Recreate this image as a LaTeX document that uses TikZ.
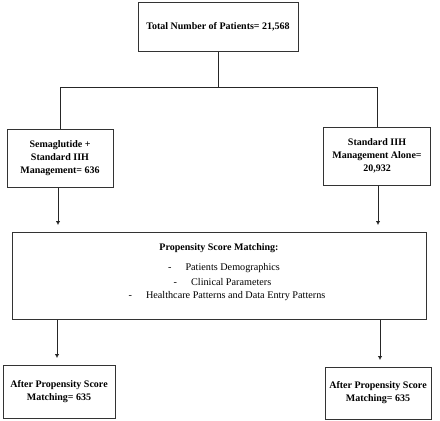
\documentclass[tikz,border=0pt]{standalone}
\usepackage{fontspec}
\setmainfont{Liberation Serif}
\usetikzlibrary{arrows.meta}
\begin{document}
\begin{tikzpicture}[x=1pt,y=-1pt,
  box/.style={draw=black!80,line width=1pt,rectangle,inner sep=2pt,align=center,
    font=\fontsize{10}{13}\selectfont\bfseries},
  conn/.style={draw=black!85,line width=1pt},
  arr/.style={conn,-{Latex[length=4pt,width=4.5pt]},shorten >=6.5pt}]
\useasboundingbox[fill=white] (0,0) rectangle (440,421);
\node[box,minimum width=160,minimum height=49] (top) at (218,26.5) {Total Number of Patients= 21,568};
\node[box,minimum width=106,minimum height=58] (left) at (60,158) {Semaglutide +\\Standard IIH\\Management= 636};
\node[box,minimum width=107,minimum height=58] (right) at (377,156) {Standard IIH\\Management Alone=\\20,932};
\node[box,minimum width=414,minimum height=87] (psm) at (219,275.5) {};
\node[font=\fontsize{10}{12}\selectfont\bfseries] (psmtitle) at (219,248) {Propensity Score Matching:};
\node[font=\fontsize{10.2}{12}\selectfont] (it1) at (224,268) {-\hspace{14pt}Patients Demographics};
\node[font=\fontsize{10.2}{12}\selectfont] (it2) at (222.5,282) {-\hspace{14pt}Clinical Parameters};
\node[font=\fontsize{10.2}{12}\selectfont] (it3) at (227,296) {-\hspace{14pt}Healthcare Patterns and Data Entry Patterns};
\node[box,minimum width=112,minimum height=53] (bl) at (59,391.5) {After Propensity Score\\Matching= 635};
\node[box,minimum width=106,minimum height=52] (br) at (378,393) {After Propensity Score\\Matching= 635};
\coordinate (j) at (218,87);
\coordinate (jl) at (60,87);
\coordinate (jr) at (377,87);
\draw[conn] (top.south) -- (j);
\draw[conn] (jl) -- (jr);
\draw[conn] (jl) -- (left.north);
\draw[conn] (jr) -- (right.north);
\draw[arr] (left.south -| 58,0) -- (psm.north -| 58,0);
\draw[arr] (right.south -| 378,0) -- (psm.north -| 378,0);
\draw[arr] (psm.south -| 57,0) -- (bl.north -| 57,0);
\draw[arr] (psm.south -| 380,0) -- (br.north -| 380,0);
\end{tikzpicture}
\end{document}
